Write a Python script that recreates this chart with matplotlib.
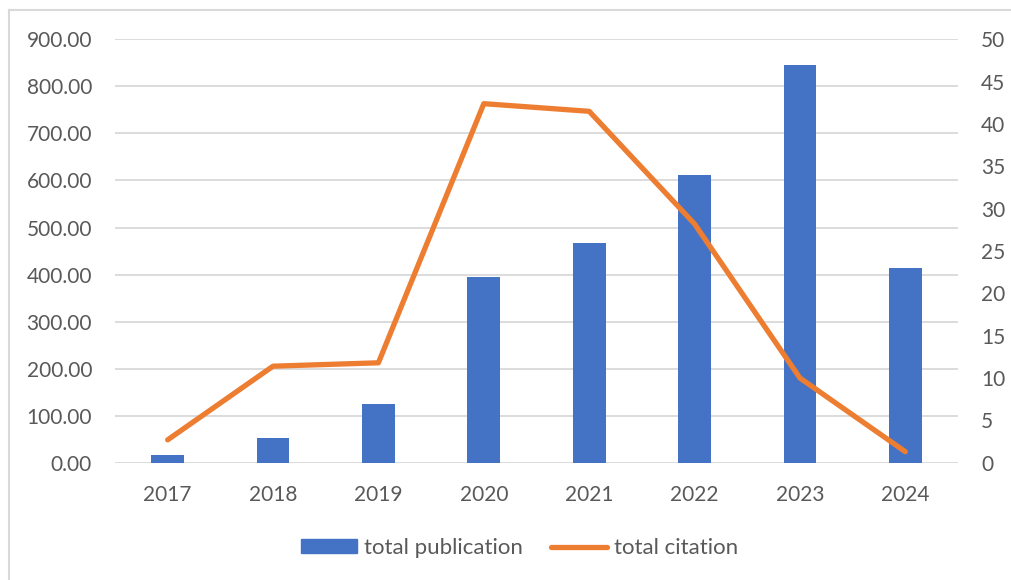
import matplotlib.pyplot as plt
from matplotlib.ticker import FormatStrFormatter
from matplotlib.lines import Line2D

years = ["2017", "2018", "2019", "2020", "2021", "2022", "2023", "2024"]
total_publication = [16.5, 52.5, 125, 395, 466, 611, 845, 413]
total_citation = [2.7, 11.4, 11.8, 42.4, 41.5, 28.2, 10.0, 1.3]

BLUE = "#4472C4"
ORANGE = "#ED7D31"
TEXT = "#595959"
GRID = "#D9D9D9"

plt.rcParams["font.family"] = ["Lato", "DejaVu Sans"]
FS = 15

fig = plt.figure(figsize=(10.11, 5.8), dpi=100)
ax = fig.add_axes((0.1137, 0.2022, 0.8339, 0.73))
ax2 = ax.twinx()

x = range(len(years))
ax.bar(x, total_publication, width=0.31, color=BLUE, zorder=2,
       label="total publication")
ax2.plot(x, total_citation, color=ORANGE, lw=3.8, solid_capstyle="round",
         solid_joinstyle="round", label="total citation")

ax.set_xlim(-0.5, len(years) - 0.5)
ax.set_ylim(0, 900)
ax.set_yticks(range(0, 901, 100))
ax.yaxis.set_major_formatter(FormatStrFormatter("%.2f"))
ax2.set_ylim(0, 50)
ax2.set_yticks(range(0, 51, 5))
ax.set_xticks(list(x))
ax.set_xticklabels(years)

ax.grid(axis="y", color=GRID, lw=1.3, zorder=0)
ax.set_axisbelow(True)
for a in (ax, ax2):
    for s in a.spines.values():
        s.set_visible(False)
    a.tick_params(length=0, labelsize=FS, colors=TEXT)
ax.tick_params(axis="y", pad=16.5)
ax2.tick_params(axis="y", pad=16.5)
ax.tick_params(axis="x", pad=16)

handles = [plt.Rectangle((0, 0), 1, 1, color=BLUE),
           Line2D([0], [0], color=ORANGE, lw=3.8, solid_capstyle="round")]
fig.legend(handles, ["total publication", "total citation"], loc="center",
           bbox_to_anchor=(519.5 / 1011, 1 - 548 / 580), ncol=2, frameon=False,
           fontsize=16, labelcolor=TEXT, handlelength=2.5, handleheight=0.6,
           handletextpad=0.3, columnspacing=1.3)

# outer chart frame (left and top edges are visible in the reference)
fig.add_artist(Line2D([9 / 1011, 9 / 1011], [0, 1 - 10 / 580],
                      transform=fig.transFigure, color=GRID, lw=1.5))
fig.add_artist(Line2D([9 / 1011, 1], [1 - 10 / 580, 1 - 10 / 580],
                      transform=fig.transFigure, color=GRID, lw=1.5))

fig.savefig("out.png", dpi=100)
